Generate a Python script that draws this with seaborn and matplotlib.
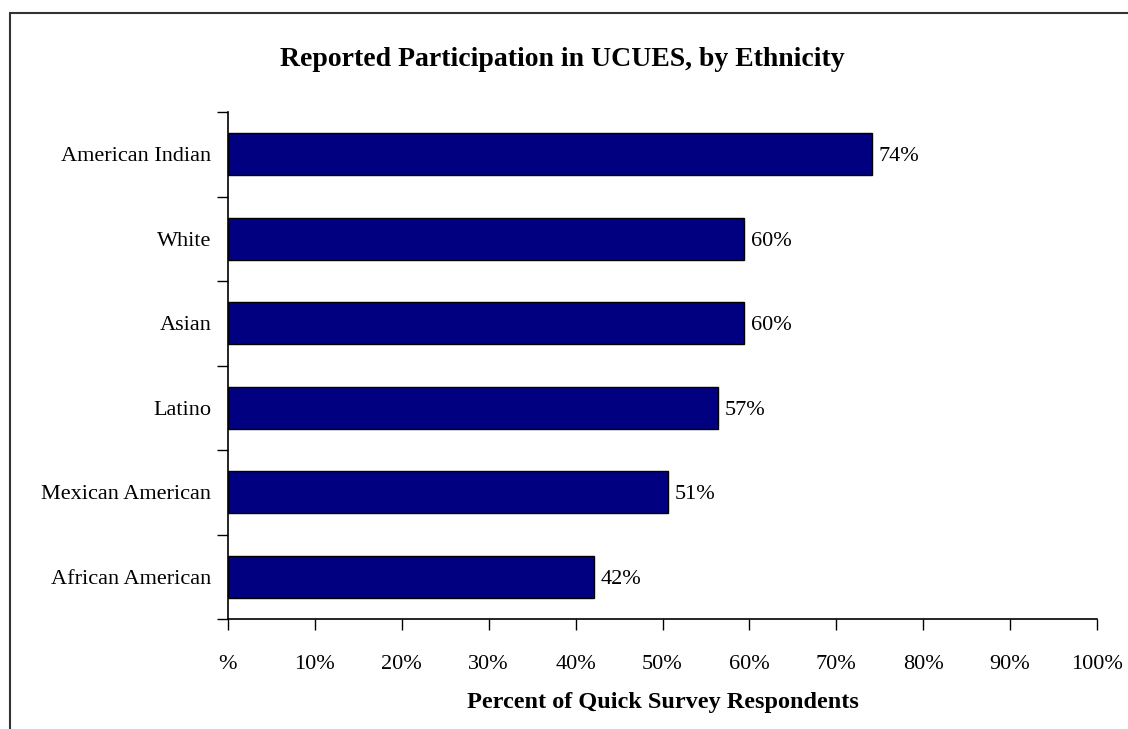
import matplotlib
matplotlib.use("Agg")
import matplotlib.pyplot as plt
import seaborn as sns
import pandas as pd
from matplotlib.patches import Rectangle
from matplotlib.ticker import FixedLocator

categories = ["American Indian", "White", "Asian", "Latino", "Mexican American", "African American"]
values = [74.1, 59.4, 59.4, 56.4, 50.6, 42.1]
value_labels = ["74%", "60%", "60%", "57%", "51%", "42%"]
x_ticks = [0, 10, 20, 30, 40, 50, 60, 70, 80, 90, 100]
x_tick_labels = ["%", "10%", "20%", "30%", "40%", "50%", "60%", "70%", "80%", "90%", "100%"]

sns.set_theme(style="white")
plt.rcParams['font.family'] = ['Liberation Serif', 'DejaVu Serif']
plt.rcParams['text.color'] = 'black'
plt.rcParams['xtick.color'] = 'black'
plt.rcParams['ytick.color'] = 'black'
plt.rcParams['axes.labelcolor'] = 'black'

W, H = 1128, 729
fig = plt.figure(figsize=(W / 100, H / 100), dpi=100)
ax = fig.add_axes([228 / W, 1 - 619 / H, (1097 - 228) / W, (619 - 112) / H])

df = pd.DataFrame({"cat": categories, "val": values})
sns.barplot(data=df, x="val", y="cat", orient="h", color="#000080", width=0.5,
            edgecolor="black", linewidth=1.0, saturation=1, ax=ax)

ax.set_xlim(0, 100)
ax.set_ylim(len(categories) - 0.5, -0.5)
ax.set_xticks(x_ticks)
ax.set_xticklabels(x_tick_labels, fontsize=16)
ax.tick_params(axis="x", direction="out", length=8, width=1, color="black", pad=18, bottom=True)
ax.tick_params(axis="y", which="major", length=0, pad=12, labelsize=16)
ax.yaxis.set_minor_locator(FixedLocator([i - 0.5 for i in range(len(categories) + 1)]))
ax.tick_params(axis="y", which="minor", direction="out", length=8, width=1, color="black", left=True)

for s in ["top", "right"]:
    ax.spines[s].set_visible(False)
for s in ["left", "bottom"]:
    ax.spines[s].set_color("black")
    ax.spines[s].set_linewidth(1.2)

ax.set_ylabel("")
ax.set_xlabel("Percent of Quick Survey Respondents", fontsize=17.5, fontweight="bold", labelpad=13)

for i, (v, lab) in enumerate(zip(values, value_labels)):
    ax.annotate(lab, (v, i), xytext=(5, 0), textcoords="offset points",
                va="center_baseline", ha="left", fontsize=16)

fig.text(562 / W, 1 - 66 / H, "Reported Participation in UCUES, by Ethnicity",
         ha="center", va="baseline", fontsize=20, fontweight="bold")

fig.patches.append(Rectangle((10 / W, -0.1), 1.2, 1 - 13 / H + 0.1, transform=fig.transFigure,
                             fill=False, edgecolor="#333333", linewidth=1.5))

fig.savefig("out.png", dpi=100)
